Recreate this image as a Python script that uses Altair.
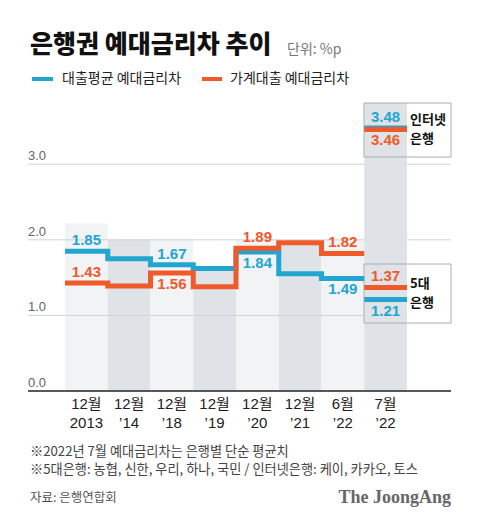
import altair as alt
import pandas as pd

# ---------------- data ----------------
months = ["12월", "12월", "12월", "12월", "12월", "12월", "6월", "7월"]
years = ["2013", "’14", "’18", "’19", "’20", "’21", "’22", "’22"]
series_names = ["대출평균 예대금리차", "가계대출 예대금리차"]
series_colors = ["#22a6d0", "#ef5a2b"]

avg_spread = [1.85, 1.75, 1.67, 1.62, 1.84, 1.55, 1.49]          # 2013 .. 6월 '22
household_spread = [1.43, 1.39, 1.56, 1.38, 1.89, 1.96, 1.82]

july_big5 = [1.21, 1.37]       # [대출평균, 가계대출] for 5대 은행
july_internet = [3.48, 3.46]   # [대출평균, 가계대출] for 인터넷 은행

labeled_cols = [0, 2, 4, 6]
avg_label_side = ["above", "above", "below", "below"]
household_label_side = ["above", "below", "above", "above"]

band_tops = [2.22, 2.0, 2.0, 1.62, 2.0, 1.98, 2.0]
july_band_top = 3.81
grid_values = [1, 2, 3]
tick_values = [0, 1, 2, 3]

# ---------------- layout helpers ----------------
W, H = 423, 291
xscale = alt.Scale(domain=[-0.866, 9.03], nice=False, zero=False)
yscale = alt.Scale(domain=[0, 3.85], nice=False, zero=False)
KFONT = "Noto Sans CJK KR"
NFONT = "Liberation Sans, Noto Sans CJK KR"
BLUE, ORANGE = series_colors
LIGHT, DARK = "#f1f3f5", "#dfe3e7"
ONE = pd.DataFrame({"k": [0]})


def X(f):
    return alt.X(f, scale=xscale, axis=None)


def Y(f):
    return alt.Y(f, scale=yscale, axis=None)


# bands for the first seven periods
bands = pd.DataFrame({
    "col": list(range(7)),
    "end": [i + 1 for i in range(7)],
    "top": band_tops,
    "shade": ["light" if i % 2 == 0 else "dark" for i in range(7)],
})
bands["zero"] = 0
band_layer = alt.Chart(bands).mark_rect().encode(
    x=X("col:Q"), x2="end", y=Y("zero:Q"), y2="top",
    color=alt.Color("shade:N", scale=alt.Scale(domain=["light", "dark"], range=[LIGHT, DARK]), legend=None),
)

grid_layer = alt.Chart(pd.DataFrame({"v": grid_values})).mark_rule(color="#cfd2d5", strokeWidth=1).encode(
    x=alt.value(0), x2=alt.value(W), y=Y("v:Q"))

# white fill of the lower box (covers grid)
box_fill = alt.Chart(ONE).mark_rect(fill="white").encode(
    x=alt.value(336), x2=alt.value(W), y=alt.value(164), y2=alt.value(223))

july_band = alt.Chart(pd.DataFrame({"col": [7], "end": [8], "zero": [0], "top": [july_band_top]})).mark_rect(
    color=DARK).encode(x=X("col:Q"), x2="end", y=Y("zero:Q"), y2="top")

baseline = alt.Chart(pd.DataFrame({"v": [0]})).mark_rule(color="#222", strokeWidth=1.5).encode(
    x=alt.value(0), x2=alt.value(W), y=Y("v:Q"))

box_strokes = alt.Chart(ONE).mark_rect(
    fillOpacity=0, stroke="#a9acaf", strokeWidth=1).encode(
    x=alt.value(336), x2=alt.value(W), y=alt.value(3), y2=alt.value(57))
box_strokes2 = alt.Chart(ONE).mark_rect(
    fillOpacity=0, stroke="#a9acaf", strokeWidth=1).encode(
    x=alt.value(336), x2=alt.value(W), y=alt.value(164), y2=alt.value(223))


def step_df(vals):
    return pd.DataFrame({"col": list(range(len(vals))) + [len(vals)], "v": vals + [vals[-1]]})


def step_layer(vals, color):
    return alt.Chart(step_df(vals)).mark_line(
        interpolate="step-after", strokeWidth=5, strokeJoin="miter", strokeCap="butt", color=color
    ).encode(x=X("col:Q"), y=Y("v:Q"))


def july_layer(idx, color):
    df = pd.DataFrame({"col": [7, 7], "end": [8, 8], "v": [july_big5[idx], july_internet[idx]]})
    return alt.Chart(df).mark_rule(strokeWidth=5, strokeCap="butt", color=color).encode(
        x=X("col:Q"), x2="end", y=Y("v:Q"))


# value labels
rows = []
for c, s in zip(labeled_cols, avg_label_side):
    rows.append({"x": c + 0.5, "v": avg_spread[c], "s": "avg", "side": s})
for c, s in zip(labeled_cols, household_label_side):
    rows.append({"x": c + 0.5, "v": household_spread[c], "s": "hh", "side": s})
rows.append({"x": 7.5, "v": july_internet[0], "s": "avg", "side": "above"})
rows.append({"x": 7.5, "v": july_internet[1], "s": "hh", "side": "below"})
rows.append({"x": 7.5, "v": july_big5[1], "s": "hh", "side": "above"})
rows.append({"x": 7.5, "v": july_big5[0], "s": "avg", "side": "below"})
labels = pd.DataFrame(rows)


def label_layer(side, dy):
    return alt.Chart(labels).transform_filter(alt.datum.side == side).mark_text(
        font=NFONT, fontSize=15, fontWeight="bold", dy=dy, baseline="middle", align="center"
    ).encode(
        x=X("x:Q"), y=Y("v:Q"), text=alt.Text("v:Q", format=".2f"),
        color=alt.Color("s:N", scale=alt.Scale(domain=["avg", "hh"], range=[BLUE, ORANGE]), legend=None),
    )


cats = pd.DataFrame({"x": [i + 0.5 for i in range(8)], "m": months, "yr": years})
month_layer = alt.Chart(cats).mark_text(font=NFONT, fontSize=15, color="#222", baseline="middle").encode(
    x=X("x:Q"), y=alt.value(304), text="m:N")
year_layer = alt.Chart(cats).mark_text(font=NFONT, fontSize=15, color="#222", baseline="middle").encode(
    x=X("x:Q"), y=alt.value(323), text="yr:N")

ytick_layer = alt.Chart(pd.DataFrame({"v": tick_values})).mark_text(
    font=NFONT, fontSize=13, color="#666", align="left", baseline="alphabetic", dy=-4
).encode(x=alt.value(0), y=Y("v:Q"), text=alt.Text("v:Q", format=".1f"))


def txt(text, x, y, size, color="#222", weight="normal", align="left", font=KFONT, baseline="middle"):
    return alt.Chart(ONE).mark_text(
        text=text, font=font, fontSize=size, color=color, fontWeight=weight, align=align, baseline=baseline
    ).encode(x=alt.value(x), y=alt.value(y))


def legend_rule(x1, x2, color):
    return alt.Chart(ONE).mark_rule(color=color, strokeWidth=4).encode(
        x=alt.value(x1), x2=alt.value(x2), y=alt.value(-21))


annotations = [
    txt("은행권 예대금리차 추이", 2, -55, 25, "#111", 900),
    txt("단위: %p", 259, -50, 14, "#777"),
    legend_rule(4, 25, BLUE),
    txt(series_names[0], 34, -21, 14, "#222"),
    legend_rule(174, 194, ORANGE),
    txt(series_names[1], 202, -21, 14, "#222"),
    txt("인터넷", 382, 19.5, 13, "#111", "bold"),
    txt("은행", 382, 38.5, 13, "#111", "bold"),
    txt("5대", 382, 183.5, 13, "#111", "bold"),
    txt("은행", 382, 202.5, 13, "#111", "bold"),
    txt("※2022년 7월 예대금리차는 은행별 단순 평균치", 2, 352, 13.2, "#444"),
    txt("※5대은행: 농협, 신한, 우리, 하나, 국민 / 인터넷은행: 케이, 카카오, 토스", 2, 370, 13.2, "#444"),
    txt("자료: 은행연합회", 2, 398, 12.5, "#555"),
    txt("The JoongAng", W, 398, 18, "#666", "bold", align="right", font="Liberation Serif"),
]

chart = alt.layer(
    band_layer, grid_layer, box_fill, july_band, baseline, box_strokes, box_strokes2,
    step_layer(avg_spread, BLUE), step_layer(household_spread, ORANGE),
    july_layer(0, BLUE), july_layer(1, ORANGE),
    label_layer("above", -11), label_layer("below", 11),
    month_layer, year_layer, ytick_layer,
    *annotations,
).resolve_scale(color="independent").properties(
    width=W, height=H,
    autosize=alt.AutoSizeParams(type="none"),
    padding={"left": 20, "top": 92, "right": 21, "bottom": 120},
    background="white",
).configure_view(stroke=None)

chart.save("out.html", embed_options={"renderer": "svg", "actions": False})
